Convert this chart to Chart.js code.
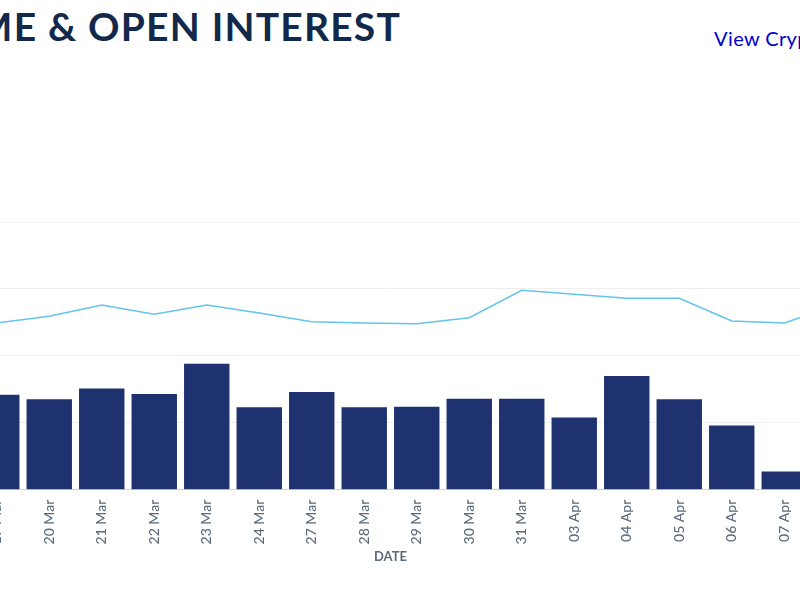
<!DOCTYPE html>
<html>
<head>
<meta charset="utf-8">
<script src="https://cdn.jsdelivr.net/npm/chart.js@4"></script>
<style>
  html, body { margin: 0; padding: 0; width: 800px; height: 600px; overflow: hidden; background: #fff; }
  .title { position: absolute; right: 399px; top: 3px; margin: 0; white-space: nowrap; font: 700 39px Lato, sans-serif; letter-spacing: 1.2px; color: #13294b; }
  .link { position: absolute; left: 714px; top: 26px; white-space: nowrap; font: 400 20px Lato, sans-serif; letter-spacing: .4px; color: #0000d0; }
  #myChart { position: absolute; left: -82px; top: 212px; }
</style>
</head>
<body>
<h1 class="title">VOLUME &amp; OPEN INTEREST</h1>
<a class="link">View Crypto</a>
<canvas id="myChart" width="947" height="353" style="width:947px;height:353px"></canvas>
<script>
const labels = ['16 Mar', '17 Mar', '20 Mar', '21 Mar', '22 Mar', '23 Mar', '24 Mar', '27 Mar', '28 Mar',
  '29 Mar', '30 Mar', '31 Mar', '03 Apr', '04 Apr', '05 Apr', '06 Apr', '07 Apr', '10 Apr'];
const volume = [1.30, 1.42, 1.35, 1.51, 1.43, 1.88, 1.23, 1.46, 1.23,
  1.24, 1.36, 1.36, 1.08, 1.70, 1.35, 0.96, 0.27, 1.10];
const openInterest = [2.45, 2.49, 2.59, 2.76, 2.62, 2.76, 2.64, 2.51, 2.49,
  2.48, 2.57, 2.98, 2.92, 2.86, 2.86, 2.52, 2.49, 2.76];
const yTicks = [0, 1, 2, 3, 4];

const config = {
  type: 'bar',
  data: {
    labels: labels,
    datasets: [{
      type: 'line',
      label: 'Open Interest',
      data: openInterest,
      borderColor: '#62c5ea',
      borderWidth: 1.5,
      pointRadius: 0,
      tension: 0,
    }, {
      label: 'Volume',
      data: volume,
      backgroundColor: '#1f3270',
      barPercentage: 0.865,
      categoryPercentage: 1,
    }]
  },
  options: {
    responsive: false,
    animation: false,
    layout: { padding: { top: 10, right: 2 } },
    plugins: {
      legend: { display: false },
      tooltip: { enabled: false },
    },
    scales: {
      x: {
        title: {
          display: true,
          text: 'DATE',
          color: '#5b6b7b',
          font: { family: 'Lato', size: 13, weight: '700' },
          padding: { top: -5, bottom: 0 },
        },
        grid: { display: false, drawTicks: false },
        border: { color: '#cfd3d8', width: 1 },
        ticks: {
          autoSkip: false,
          maxRotation: 90,
          minRotation: 90,
          padding: 10,
          color: '#5b6b7b',
          font: { family: 'Lato', size: 14, weight: '500' },
        },
      },
      y: {
        min: 0,
        max: 4,
        afterBuildTicks: (axis) => { axis.ticks = yTicks.map(v => ({ value: v })); },
        grid: { color: '#eeeeee', drawTicks: false },
        border: { display: false },
        ticks: { display: false },
      },
    },
  },
};

const myChart = new Chart(document.getElementById('myChart'), config);
</script>
</body>
</html>
